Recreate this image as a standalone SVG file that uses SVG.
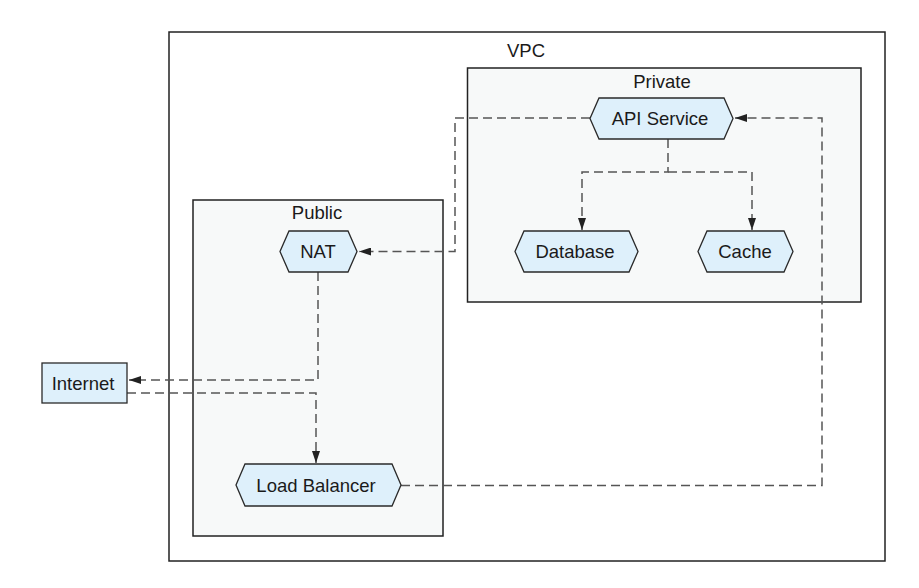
<svg xmlns="http://www.w3.org/2000/svg" width="919" height="588" viewBox="0 0 919 588">
<defs>
<style>
.cluster{stroke:#222;stroke-width:1.5}
.node{fill:#def0fb;stroke:#2a2a2a;stroke-width:1.3}
.lbl{font-family:"Liberation Sans",Arial,sans-serif;font-size:18.5px;fill:#1a1a1a;text-anchor:middle}
.edge{fill:none;stroke:#555;stroke-width:1.5;stroke-dasharray:9,5}
</style>
<marker id="arr" viewBox="0 0 12 8" refX="12" refY="4" markerWidth="12" markerHeight="8" markerUnits="userSpaceOnUse" orient="auto">
<path d="M0,0 L12,4 L0,8 z" fill="#222"/>
</marker>
</defs>
<rect width="919" height="588" fill="#fff"/>
<g id="vpc">
<rect class="cluster" x="169" y="32" width="716" height="529" fill="#fff"/>
<text class="lbl" x="526" y="57">VPC</text>
</g>
<g id="private">
<rect class="cluster" x="467.5" y="68" width="393.5" height="234" fill="#f7f9f9"/>
<text class="lbl" x="662" y="88">Private</text>
</g>
<g id="public">
<rect class="cluster" x="193" y="200" width="250" height="336" fill="#f7f9f9"/>
<text class="lbl" x="317" y="219">Public</text>
</g>
<g id="connectors">
<path class="edge" d="M590,118 H455 V251.5 H359" marker-end="url(#arr)"/>
<path class="edge" d="M668,139 V172 H582 V230" marker-end="url(#arr)"/>
<path class="edge" d="M668,172 H752 V230" marker-end="url(#arr)"/>
<path class="edge" d="M318,272 V380 H129" marker-end="url(#arr)"/>
<path class="edge" d="M127,393 H316 V463" marker-end="url(#arr)"/>
<path class="edge" d="M401,485.5 H822 V118 H735" marker-end="url(#arr)"/>
</g>
<g id="api-service">
<polygon class="node" points="599,98 724,98 733,118.5 724,139 599,139 590,118.5"/>
<text class="lbl" x="660" y="125">API Service</text>
</g>
<g id="database">
<polygon class="node" points="524,231 629,231 638,251.5 629,272 524,272 515,251.5"/>
<text class="lbl" x="575" y="258">Database</text>
</g>
<g id="cache">
<polygon class="node" points="707,231 784,231 793,251.5 784,272 707,272 698,251.5"/>
<text class="lbl" x="745" y="258">Cache</text>
</g>
<g id="nat">
<polygon class="node" points="289,231 348,231 357,251.5 348,272 289,272 280,251.5"/>
<text class="lbl" x="318" y="258">NAT</text>
</g>
<g id="load-balancer">
<polygon class="node" points="245,464 392,464 401,485 392,506 245,506 236,485"/>
<text class="lbl" x="316" y="492">Load Balancer</text>
</g>
<g id="internet">
<rect class="node" x="42" y="363" width="85" height="40"/>
<text class="lbl" x="83" y="390">Internet</text>
</g>
</svg>
